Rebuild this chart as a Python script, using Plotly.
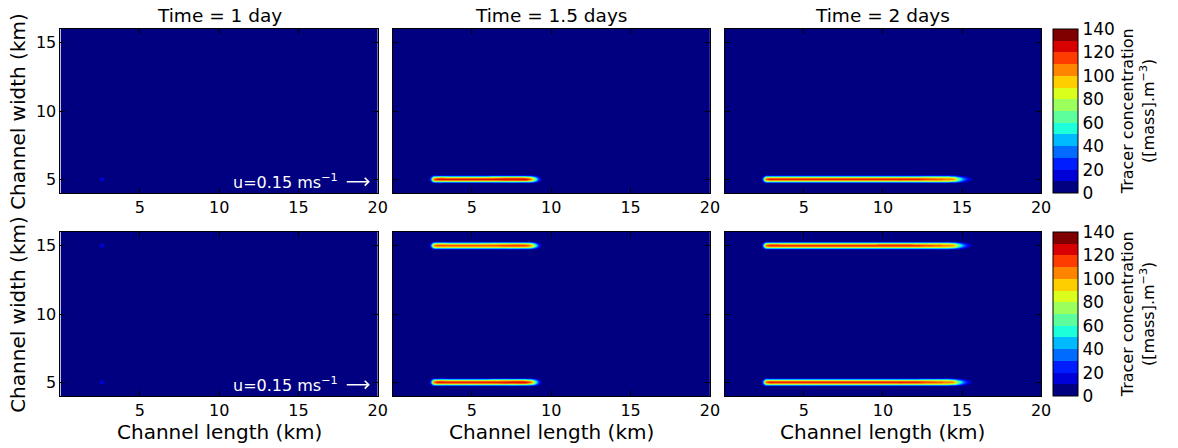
import plotly.graph_objects as go

# ---------------- data ----------------
panel_titles = ["Time = 1 day", "Time = 1.5 days", "Time = 2 days"]

# along-channel sample positions (km) and relative concentration at each time
x_nodes = [0, 2.3, 2.45, 2.6, 2.8, 3.5, 6, 8.5, 8.8, 9.0, 9.2, 9.4, 9.6,
           12, 14.5, 14.8, 15.1, 15.4, 15.7, 16.0, 20]
along_1d = [0, 0, 0.5, 1, 0.5, 0, 0, 0, 0, 0, 0, 0, 0,
            0, 0, 0, 0, 0, 0, 0, 0]
along_15d = [0, 0, 0.35, 0.9, 1, 1, 1, 1, 0.85, 0.55, 0.25, 0.06, 0,
             0, 0, 0, 0, 0, 0, 0, 0]
along_2d = [0, 0, 0.35, 0.9, 1, 1, 1, 1, 1, 1, 1, 1, 1,
            1, 0.85, 0.55, 0.32, 0.15, 0.06, 0, 0]
along_profiles = [along_1d, along_15d, along_2d]

# cross-channel profile (offset from plume centreline, km)
cross_offsets = [-0.45, -0.3, -0.19, -0.1, 0, 0.1, 0.19, 0.3, 0.45]
cross_profile = [0, 0.06, 0.42, 0.8, 1, 0.8, 0.42, 0.06, 0]

# plume centrelines (km) and peak concentrations per panel
row1_centres = [5]
row1_peaks = [[18], [126], [124]]
row2_centres = [5, 15]
row2_peaks = [[18, 18], [125, 117], [124, 123]]

levels_start, levels_end, levels_step = 0, 140, 10
cbar_ticks = [0, 20, 40, 60, 80, 100, 120, 140]
band_colors = ["#000080", "#0000D9", "#001DFF", "#006CFF", "#00BAFF", "#1CFFDA",
               "#5CFF9B", "#9BFF5C", "#DAFF1C", "#FFCE00", "#FF8500", "#FF3C00",
               "#D90000", "#800000"]

# ---------------- layout helpers ----------------
W, H = 1178, 448
px_x = [(61, 381), (396, 716), (731, 1050)]
px_y = [(29, 193), (232, 396)]
FONT = "DejaVu Sans"


def fx(p):
    return p / W


def fy(p):
    return 1 - p / H


# stepwise colorscale matching plotly's contour colour map (-5..145 span)
n = len(band_colors) + 1
colorscale = []
for i, c in enumerate(band_colors):
    lo = 0 if i == 0 else (i + 0.5) / n
    hi = 1 if i == len(band_colors) - 1 else (i + 1.5) / n
    colorscale.append([lo, c])
    colorscale.append([hi, c])


def build_grid(centres, peaks, along):
    ys = [4]
    zs = [[0] * len(x_nodes)]
    for c, pk in zip(centres, peaks):
        for o, cp in zip(cross_offsets, cross_profile):
            ys.append(c + o)
            zs.append([pk * cp * a for a in along])
    ys.append(16)
    zs.append([0] * len(x_nodes))
    return ys, zs


fig = go.Figure()
rows = [(row1_centres, row1_peaks), (row2_centres, row2_peaks)]
annotations = []
axis_idx = 0
for r, (centres, peaks) in enumerate(rows):
    for c in range(3):
        axis_idx += 1
        ys, zs = build_grid(centres, peaks[c], along_profiles[c])
        xa = "x" if axis_idx == 1 else f"x{axis_idx}"
        ya = "y" if axis_idx == 1 else f"y{axis_idx}"
        show = c == 2
        cb = None
        if show:
            yc = (px_y[r][0] + px_y[r][1]) / 2
            cb = dict(x=fx(1062), xanchor="left", y=fy(yc), yanchor="middle",
                      len=(px_y[r][1] - px_y[r][0]) / H, lenmode="fraction",
                      thickness=25, thicknessmode="pixels",
                      outlinewidth=1, outlinecolor="black",
                      tickvals=cbar_ticks, ticks="", xpad=0, ypad=0,
                      tickfont=dict(family=FONT, size=17, color="black"))
        fig.add_trace(go.Contour(
            x=x_nodes, y=ys, z=zs, xaxis=xa, yaxis=ya,
            zmin=levels_start, zmax=levels_end, zauto=False,
            autocontour=False,
            contours=dict(start=levels_start, end=levels_end, size=levels_step,
                          coloring="fill"),
            line=dict(width=0), colorscale=colorscale,
            showscale=show, colorbar=cb, hoverinfo="skip"))
        xk = "xaxis" if axis_idx == 1 else f"xaxis{axis_idx}"
        yk = "yaxis" if axis_idx == 1 else f"yaxis{axis_idx}"
        common = dict(showline=True, linecolor="black", linewidth=1, mirror="ticks",
                      ticks="inside", ticklen=5, tickcolor="black", tickwidth=1,
                      showgrid=False, zeroline=False,
                      tickfont=dict(family=FONT, size=16, color="black"))
        fig.layout[xk] = dict(domain=[fx(px_x[c][0]), fx(px_x[c][1])], range=[0, 20],
                              tickvals=[5, 10, 15, 20], anchor=ya,
                              showticklabels=True, **common)
        fig.layout[yk] = dict(domain=[fy(px_y[r][1]), fy(px_y[r][0])], range=[4, 16],
                              tickvals=[5, 10, 15], anchor=xa,
                              showticklabels=(c == 0), **common)
        if c == 0:
            annotations.append(dict(xref=xa, yref=ya, x=17.65, y=4.87, text="u=0.15 ms<sup>−1</sup>",
                                    showarrow=False, xanchor="right", yanchor="middle",
                                    font=dict(family=FONT, size=16, color="white")))
            annotations.append(dict(xref=xa, yref=ya, x=19.5, y=4.83, ax=17.95, ay=4.83,
                                    axref=xa, ayref=ya, text="", showarrow=True,
                                    arrowhead=4, arrowsize=1, arrowwidth=1.5,
                                    arrowcolor="white"))

# titles
for c in range(3):
    xc = (px_x[c][0] + px_x[c][1]) / 2
    annotations.append(dict(xref="paper", yref="paper", x=fx(xc), y=fy(16), text=panel_titles[c],
                            showarrow=False, xanchor="center", yanchor="middle",
                            font=dict(family=FONT, size=18.5, color="black")))
    annotations.append(dict(xref="paper", yref="paper", x=fx(xc), y=fy(432), text="Channel length (km)",
                            showarrow=False, xanchor="center", yanchor="middle",
                            font=dict(family=FONT, size=20, color="black")))
for r in range(2):
    yc = (px_y[r][0] + px_y[r][1]) / 2
    annotations.append(dict(xref="paper", yref="paper", x=fx(18), y=fy(yc), text="Channel width (km)",
                            showarrow=False, xanchor="center", yanchor="middle", textangle=-90,
                            font=dict(family=FONT, size=20, color="black")))
    annotations.append(dict(xref="paper", yref="paper", x=fx(1148), y=fy(yc),
                            text="Tracer concentration<br>([mass].m<sup>−3</sup>)",
                            showarrow=False, xanchor="center", yanchor="middle", textangle=-90,
                            font=dict(family=FONT, size=16, color="black")))

fig.update_layout(width=W, height=H, margin=dict(l=0, r=0, t=0, b=0), autosize=False,
                  paper_bgcolor="white", plot_bgcolor="white",
                  annotations=annotations, showlegend=False)
fig.write_html(
    "out.html",
    config={"responsive": False, "displayModeBar": False},
    post_script=("document.body.style.margin='0px';"
                 "document.body.style.overflow='hidden';"
                 "Plotly.relayout(document.getElementById('{plot_id}'), {width: 1178, height: 448});"),
)
